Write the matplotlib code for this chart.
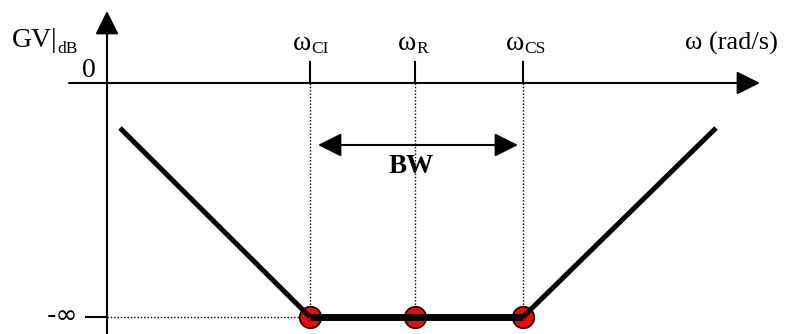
import matplotlib
matplotlib.use('Agg')
import matplotlib.pyplot as plt

plt.rcParams['font.family'] = ['Liberation Serif', 'DejaVu Serif']

# schematic positions (x along frequency, y in "dB" with 0 dB = 0)
y_axis_x = 107
minus_inf = -234
omega_x = [310, 415, 523]
omega_sub = ['CI', 'R', 'CS']
curve_x = [120, 310, 523, 716]
curve_y = [-45, -234, -234, -45]
bw_span = [318, 518]
bw_y = -62

fig = plt.figure(figsize=(7.88, 3.34), dpi=100)
ax = fig.add_axes([0, 0, 1, 1])
ax.set_xlim(0, 788)
ax.set_ylim(-251, 83)
ax.axis('off')

dotted = (0, (1.0, 1.4))

# axes with arrow heads
arr = dict(arrowstyle='-|>,head_length=1.0,head_width=0.5', mutation_scale=14.4,
           lw=1.5, color='k', shrinkA=0, shrinkB=0)
ax.annotate('', xy=(760, 0), xytext=(69, 0), arrowprops=arr)
ax.annotate('', xy=(y_axis_x, 72), xytext=(y_axis_x, -251), arrowprops=arr)

# -inf tick and dotted guide
ax.plot([86, y_axis_x], [minus_inf, minus_inf], color='k', lw=1.5)
ax.plot([y_axis_x, omega_x[0]], [minus_inf, minus_inf], color='k', lw=1.0, ls=dotted)

# omega ticks, dotted drops and labels
for x, sub in zip(omega_x, omega_sub):
    ax.plot([x, x], [0, 21], color='k', lw=1.5)
    ax.plot([x, x], [0, minus_inf], color='k', lw=1.0, ls=dotted)
    ax.text(x + 1, 33, 'ω', ha='right', va='baseline', fontsize=20)
    ax.text(x + 1, 30, sub, ha='left', va='baseline', fontsize=12.5)

# curve
ax.scatter(omega_x, [minus_inf] * 3, s=15.5 ** 2, color='red', edgecolor='k',
           lw=1.2, zorder=3)
ax.plot(curve_x[:2], curve_y[:2], color='k', lw=3.6, solid_capstyle='butt', zorder=4)
ax.plot(curve_x[2:], curve_y[2:], color='k', lw=3.6, solid_capstyle='butt', zorder=4)
ax.plot(curve_x[1:3], curve_y[1:3], color='k', lw=5, solid_capstyle='butt', zorder=4)

# bandwidth arrow
ax.annotate('', xy=(bw_span[1], bw_y), xytext=(bw_span[0], bw_y),
            arrowprops=dict(arrowstyle='<|-|>,head_length=1.0,head_width=0.5',
                            mutation_scale=14.4, lw=1.5, color='k',
                            shrinkA=0, shrinkB=0))
ax.text(411, -90, 'BW', ha='center', va='baseline', fontsize=19.5, fontweight='bold')

# axis labels
ax.text(12, 36, 'GV|', ha='left', va='baseline', fontsize=20)
ax.text(57, 30, 'dB', ha='left', va='baseline', fontsize=12.5)
ax.text(89, 6, '0', ha='center', va='baseline', fontsize=20)
ax.text(685, 33, 'ω (rad/s)', ha='left', va='baseline', fontsize=19)
ax.text(78, -240, '-∞', ha='right', va='baseline', fontsize=19, family='DejaVu Sans')

fig.savefig('out.png', dpi=100)
